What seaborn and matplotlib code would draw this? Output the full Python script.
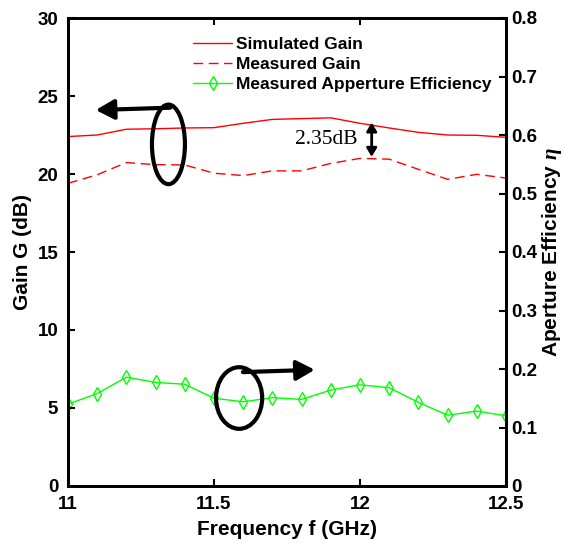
import numpy as np
import pandas as pd
import seaborn as sns
import matplotlib
matplotlib.use("Agg")
import matplotlib.pyplot as plt
from matplotlib.patches import Ellipse

freq = [11.0, 11.1, 11.2, 11.3, 11.4, 11.5, 11.6, 11.7, 11.8, 11.9, 12.0, 12.1, 12.2, 12.3, 12.4, 12.5]
sim_gain = [22.4, 22.5, 22.87, 22.9, 22.95, 22.97, 23.25, 23.5, 23.55, 23.6, 23.25, 22.95, 22.67, 22.5, 22.48, 22.35]
meas_gain = [19.4, 19.95, 20.73, 20.6, 20.58, 20.05, 19.9, 20.2, 20.2, 20.68, 21.0, 20.95, 20.3, 19.66, 19.98, 19.74]
meas_eff = [0.140, 0.158, 0.186, 0.177, 0.174, 0.150, 0.144, 0.151, 0.148, 0.164, 0.173, 0.168, 0.143, 0.121, 0.128, 0.120]

xticks = [11, 11.5, 12, 12.5]
xtick_labels = ["11", "11.5", "12", "12.5"]
yticks_left = [0, 5, 10, 15, 20, 25, 30]
yticks_right = [0, 0.1, 0.2, 0.3, 0.4, 0.5, 0.6, 0.7, 0.8]
ytick_right_labels = ["0", "0.1", "0.2", "0.3", "0.4", "0.5", "0.6", "0.7", "0.8"]

df = pd.DataFrame({"freq": freq, "sim": sim_gain, "meas": meas_gain, "eff": meas_eff})

sns.set_style("white")
plt.rcParams["font.family"] = ["Liberation Sans", "DejaVu Sans"]
plt.rcParams["font.weight"] = "bold"
plt.rcParams["mathtext.fontset"] = "custom"
plt.rcParams["mathtext.it"] = "Liberation Serif:italic"
for k in ("text.color", "axes.labelcolor", "xtick.color", "ytick.color", "axes.edgecolor"):
    plt.rcParams[k] = "black"

fig = plt.figure(figsize=(5.64, 5.46), dpi=100)
ax = fig.add_axes([68/564, 60/546, 438/564, 468/546])
ax2 = ax.twinx()

sns.lineplot(data=df, x="freq", y="sim", ax=ax, color="#ff0000", lw=1.0, label="Simulated Gain", legend=False)
sns.lineplot(data=df, x="freq", y="meas", ax=ax, color="#ff0000", lw=1.0, ls=(0, (7, 4)), label="Measured Gain", legend=False)
sns.lineplot(data=df, x="freq", y="eff", ax=ax2, color="#00ff00", lw=1.0, marker="d", markersize=7.5,
             markerfacecolor="none", markeredgecolor="#00ff00", markeredgewidth=1.0,
             label="Measured Apperture Efficiency", legend=False)

ax.set_xlim(11, 12.5)
ax.set_ylim(0, 30)
ax2.set_ylim(0, 0.8)
ax.set_xticks(xticks)
ax.set_xticklabels(xtick_labels)
ax.set_yticks(yticks_left)
ax.set_yticklabels([str(v) for v in yticks_left])
ax2.set_yticks(yticks_right)
ax2.set_yticklabels(ytick_right_labels)

for a in (ax, ax2):
    for s in a.spines.values():
        s.set_color("black")
        s.set_linewidth(2)
ax.tick_params(axis="y", which="both", direction="in", left=True, right=False, length=5, width=1.5,
               labelsize=13.5, pad=7, colors="black")
ax.tick_params(axis="x", which="both", direction="in", bottom=True, top=True, length=5, width=1.5,
               labelsize=13.5, pad=7, colors="black")
ax2.tick_params(axis="y", direction="in", right=True, left=False, length=5, width=1.5,
                labelsize=13.5, pad=4, colors="black")
for lab in ax.get_xticklabels() + ax.get_yticklabels() + ax2.get_yticklabels():
    lab.set_fontweight("bold")

ax.set_xlabel("Frequency f (GHz)", fontsize=15, fontweight="bold", labelpad=5)
ax.set_ylabel("Gain G (dB)", fontsize=15, fontweight="bold", labelpad=4)
ax2.set_ylabel(r"Aperture Efficiency $\eta$", fontsize=15, fontweight="bold", labelpad=2)

h1, l1 = ax.get_legend_handles_labels()
h2, l2 = ax2.get_legend_handles_labels()
leg = ax.legend(h1 + h2, l1 + l2, loc="upper left", bbox_to_anchor=(0.27, 0.975), frameon=False,
                fontsize=12.5, handlelength=2.25, handletextpad=0.2, labelspacing=0.28, borderaxespad=0)
for t in leg.get_texts():
    t.set_fontweight("bold")
ax.set_zorder(ax2.get_zorder() + 1)
ax.patch.set_visible(False)

# annotations
ax.add_patch(Ellipse((11.344, 21.9), 0.113, 5.1, fill=False, ec="black", lw=3, zorder=5))
ax.annotate("", xy=(11.095, 24.1), xytext=(11.35, 24.25),
            arrowprops=dict(arrowstyle="-|>,head_length=1.1,head_width=0.6", lw=3, color="black",
                            shrinkA=0, shrinkB=0))
ax.add_patch(Ellipse((11.586, 5.64), 0.158, 3.95, fill=False, ec="black", lw=3, zorder=5))
ax.annotate("", xy=(11.845, 7.45), xytext=(11.599, 7.3),
            arrowprops=dict(arrowstyle="-|>,head_length=1.1,head_width=0.6", lw=3, color="black",
                            shrinkA=0, shrinkB=0))
ax.annotate("", xy=(12.04, 23.3), xytext=(12.04, 21.1),
            arrowprops=dict(arrowstyle="<|-|>,head_length=0.5,head_width=0.3", lw=2, color="black",
                            shrinkA=0, shrinkB=0))
ax.text(11.993, 22.2, "2.35dB", fontsize=15.5, fontweight="normal", ha="right", va="center",
        family=["Liberation Serif", "DejaVu Serif"])

fig.savefig("out.png", dpi=100)
